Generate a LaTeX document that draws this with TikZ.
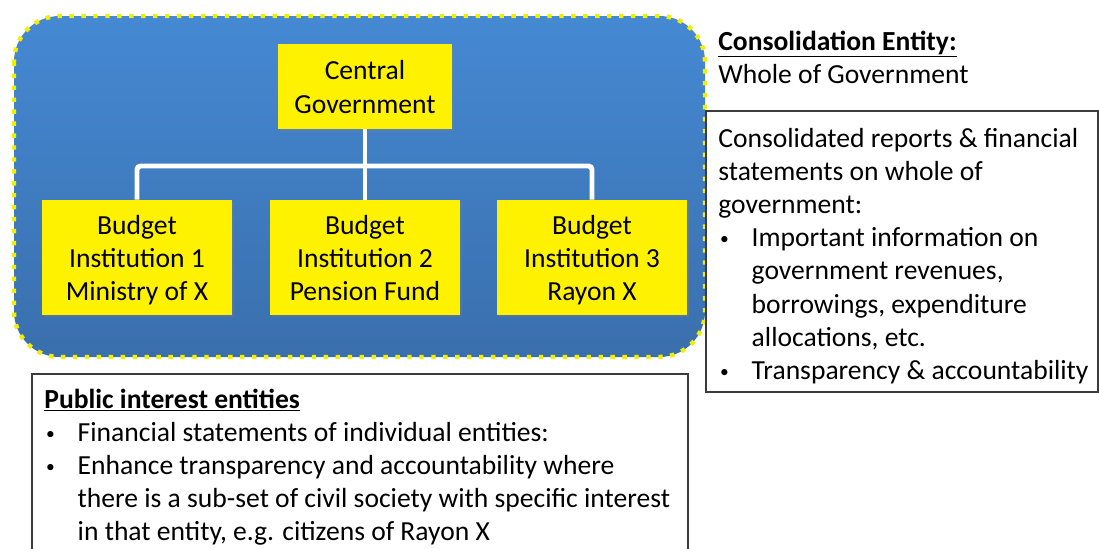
\documentclass[tikz,border=0pt]{standalone}
\usepackage{fontspec}
\setmainfont{Carlito}
\usetikzlibrary{shadows}
\definecolor{govtop}{HTML}{4589D3}
\definecolor{govbot}{HTML}{3A6FAD}
\definecolor{dotyel}{HTML}{F2EE00}
\definecolor{frame}{HTML}{3C3C3C}
\newcommand{\bul}{\makebox[19pt][l]{\hspace*{1pt}\raisebox{1.2pt}{\fontsize{10pt}{10pt}\selectfont\textbullet}}}
\newcommand{\ind}{\hspace*{19pt}}
\newcommand{\notetext}[1]{\parbox[t]{380pt}{\raggedright #1}}
\newcommand{\topstrut}{\rule{0pt}{15.4pt}}
\newcommand{\botstrut}{\rule[-4pt]{0pt}{0pt}}
\begin{document}
\begin{tikzpicture}[x=0.02cm, y=-0.02cm,
	every node/.style={font=\fontsize{15.7pt}{18.9pt}\selectfont},
	unit/.style={fill=yellow, align=center, inner sep=0pt, drop shadow={shadow xshift=1pt, shadow yshift=-1.2pt, opacity=0.35}},
	link/.style={white, line width=2.8pt},
	notes/.style={anchor=base west, inner sep=0pt}]
	\useasboundingbox (0,0) rectangle (1099,548);
	
	\draw[rounded corners=26pt, top color=govtop, bottom color=govbot, draw=dotyel, line width=2.5pt, dash pattern=on 2.5pt off 4.3pt] (14,16) rectangle (705,357);
	
	\draw (365,86.5) node[unit, minimum width=174*0.02cm, minimum height=85*0.02cm] (cg) {\topstrut Central\\Government\botstrut};
	\draw (137,257.5) node[unit, minimum width=190*0.02cm, minimum height=115*0.02cm] (b1) {\topstrut Budget\\Institution 1\\Ministry of X\botstrut};
	\draw (365,257.5) node[unit, minimum width=190*0.02cm, minimum height=115*0.02cm] (b2) {\topstrut Budget\\Institution 2\\Pension Fund\botstrut};
	\draw (592,257.5) node[unit, minimum width=190*0.02cm, minimum height=115*0.02cm] (b3) {\topstrut Budget\\Institution 3\\Rayon X\botstrut};
	
	\coordinate (j) at (365,166);
	\draw[link] (cg.south) -- (j) -- (b2.north);
	\draw[link, rounded corners=2pt] (b1.north) |- (j) -| (b3.north);
	
	\draw (718,50) node[notes] (ce) {\notetext{\underline{\textbf{Consolidation Entity:}}\\Whole of Government}};
	\draw[frame, line width=0.9pt] (706,111) rectangle (1098,392);
	\draw (718,147) node[notes] (wg) {\notetext{Consolidated reports \& financial\\statements on whole of\\government:\\
		\bul Important information on\\\ind government revenues,\\\ind borrowings, expenditure\\\ind allocations, etc.\\
		\bul Transparency \& accountability}};
	
	\draw[frame, line width=0.9pt] (32,374) rectangle (688,560);
	\draw (44,408) node[notes] (pi) {\notetext{\underline{\textbf{Public interest entities}}\\
		\bul Financial statements of individual entities:\\
		\bul Enhance transparency and accountability where\\\ind there is a sub-set of civil society with specific interest\\\ind in that entity, e.g. citizens of Rayon X}};
\end{tikzpicture}
\end{document}
